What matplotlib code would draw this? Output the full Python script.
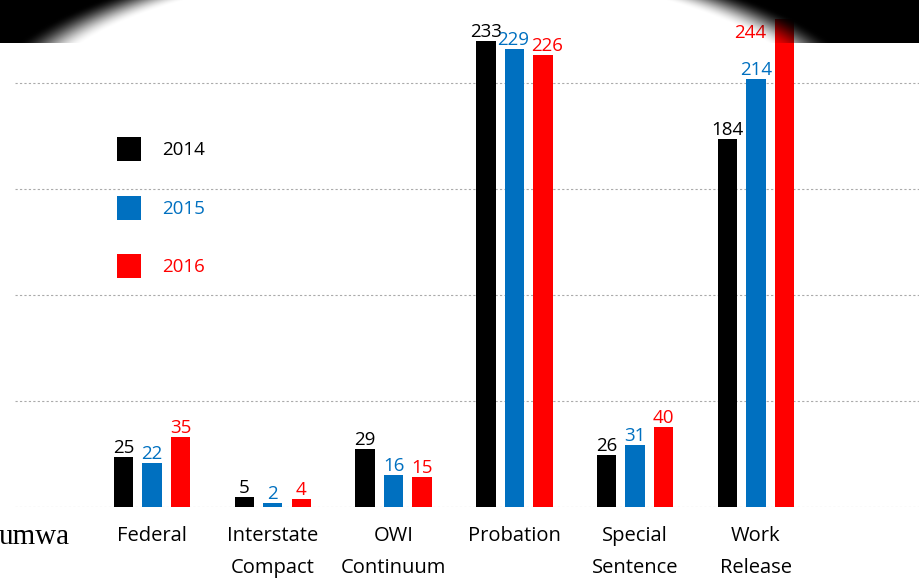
import numpy as np
import matplotlib.pyplot as plt
from matplotlib.patches import Patch

# data
categories = ["Federal", "Interstate\nCompact", "OWI\nContinuum",
              "Probation", "Special\nSentence", "Work\nRelease"]
years = ["2014", "2015", "2016"]
v2014 = [25, 5, 29, 233, 26, 184]
v2015 = [22, 2, 16, 229, 31, 214]
v2016 = [35, 4, 15, 226, 40, 244]
colors = ["#000000", "#0070C0", "#FF0000"]

plt.rcParams['font.family'] = ['Open Sans', 'DejaVu Sans']

W, H = 919, 580
fig = plt.figure(figsize=(W / 100, H / 100), dpi=100)
ax = fig.add_axes([15 / W, 1 - 507 / H, 1 - 15 / W, 507 / H])

x = np.arange(len(categories))
step = 0.236
width = 0.161
series = [v2014, v2015, v2016]
bars = []
for i, vals in enumerate(series):
    b = ax.bar(x + (i - 1) * step, vals, width, color=colors[i], zorder=3)
    bars.append(b)

# value labels above bars
for i, b in enumerate(bars):
    for j, rect in enumerate(b):
        v = series[i][j]
        cx = rect.get_x() + rect.get_width() / 2
        if v == max(v2016) and i == 2:
            # no room above: put label to the left of the bar
            ax.annotate(str(v), (cx, v), xytext=(-25, -10), textcoords="offset points",
                        ha="center", va="center", fontsize=13.5, color=colors[i], zorder=5)
        else:
            dx = 0
            # tall neighbours of almost equal height: nudge apart
            if i > 0 and v > 100 and abs(v - series[i - 1][j]) < 5:
                dx = 3 if i == 2 else -1
            ax.annotate(str(v), (cx, v), xytext=(dx, 0), textcoords="offset points",
                        ha="center", va="bottom", fontsize=13.5, color=colors[i], zorder=5)

ax.set_xlim(-1.134, 6.35)
ax.set_ylim(0, 253.5)
ax.set_yticks(np.arange(0, 213, 53))
ax.yaxis.grid(True, color="#aaaaaa", linestyle=(0, (2, 2)), linewidth=0.8, zorder=0)
ax.tick_params(axis="y", left=False, labelleft=False)
ax.set_xticks(x)
ax.set_xticklabels(categories, fontsize=14.5, linespacing=1.8)
ax.tick_params(axis="x", bottom=False, pad=10.5)
for s in ax.spines.values():
    s.set_visible(False)

handles = [Patch(facecolor=c) for c in colors]
leg = ax.legend(handles, years, loc="upper left",
                bbox_to_anchor=(117 / W, 1 - 137 / H), bbox_transform=fig.transFigure,
                frameon=False, fontsize=13.5, borderpad=0, borderaxespad=0,
                handlelength=1.28, handleheight=1.59, handletextpad=1.15,
                labelspacing=1.85)
for t, c in zip(leg.get_texts(), colors):
    t.set_color(c)

# cut-off word at the left edge of the slide
fig.text(-0.002, 1 - 537 / H, "umwa", family=["Liberation Serif", "DejaVu Serif"],
         fontsize=21, ha="left", va="center")

# dark vignette at the top of the photo
band = 43
vx = fig.add_axes([0, 1 - band / H, 1, band / H], zorder=10)
gx, gy = np.meshgrid(np.arange(W) + 0.5, np.arange(band) + 0.5)
r = np.sqrt(((gx - 425) / 420) ** 2 + ((gy - 111) / 150) ** 2)
t = np.clip((r - 0.93) / 0.14, 0, 1)
t = t * t * (3 - 2 * t)
img = np.zeros((band, W, 4))
img[..., 3] = t
vx.imshow(img, aspect="auto", interpolation="bilinear")
vx.axis("off")

fig.savefig("out.png", dpi=100)
